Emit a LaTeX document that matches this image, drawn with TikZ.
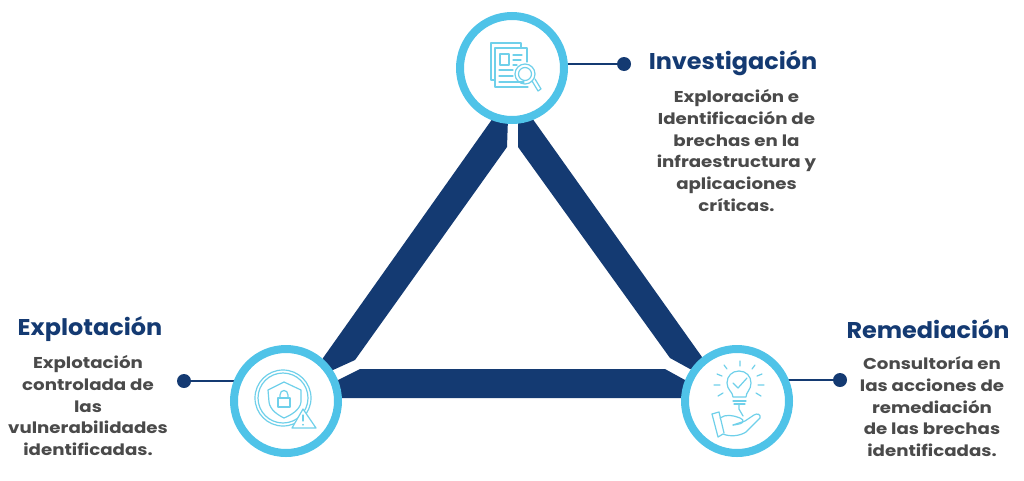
\documentclass[tikz,border=0pt]{standalone}
\usepackage{fontspec}
\setmainfont{Poppins}
\newfontfamily\titlefont{Poppins}[FakeStretch=1.05]
\newfontfamily\bodyfont{Poppins}[FakeStretch=1.16]
\definecolor{navy}{HTML}{143A72}
\definecolor{sky}{HTML}{4FC3E8}
\definecolor{icon}{HTML}{6FD0EA}
\definecolor{bodygray}{HTML}{4A4A4A}
\tikzset{
 ringnode/.style={circle,draw=sky,line width=8pt,fill=white,minimum size=104pt,inner sep=0pt},
 dotnode/.style={circle,fill=navy,minimum size=14pt,inner sep=0pt},
 link/.style={draw=navy,line width=1.6pt},
 bar/.style={fill=navy,draw=none},
 title/.style={text=navy,font=\titlefont\fontsize{22.8}{24}\selectfont\bfseries,inner sep=0pt},
 body/.style={text=bodygray,font=\bodyfont\fontsize{15.7}{21.7}\selectfont\bfseries,align=center,inner sep=0pt,anchor=north},
 ic/.style={draw=icon,line width=1.2pt,line cap=round,line join=round}
}
\begin{document}
\begin{tikzpicture}[x=1pt,y=-1pt]
\useasboundingbox (0,0) rectangle (1024,480);
% bars
\fill[bar] (493,118)--(508,118)--(507,147)--(355,360)--(333,370)--(320,372)--(323,358)--cycle;
\fill[bar] (518,118)--(532,118)--(702,357)--(705,372)--(690,369)--(670,358)--(518,147)--cycle;
\fill[bar] (330,384)--(338,380)--(360,369)--(665,369)--(685,380)--(695,384)--(695,398)--(330,398)--cycle;
% connectors
\node[dotnode] (dtop) at (624,64) {};
\node[dotnode] (dleft) at (184,381) {};
\node[dotnode] (dright) at (840,380) {};
\coordinate (ctop) at (512,64);
\coordinate (cleft) at (286,381);
\coordinate (cright) at (737,380);
\draw[link] (dtop) -- (ctop);
\draw[link] (dleft) -- (cleft);
\draw[link] (dright) -- (cright);
% rings
\node[ringnode] (top) at (512,68) {};
\node[ringnode] (left) at (286,401) {};
\node[ringnode] (right) at (737,401) {};
% icon: document + magnifier
\begin{scope}[ic]
\draw (495,80)--(491,80)--(491,43)--(521,43)--(521,48);
\draw (527,62)--(527,48)--(495,48)--(495,87)--(528,87);
\draw (500,54) rectangle (509,65);
\draw (513,55)--(522,55) (513,60)--(521,60) (513,65)--(517,65);
\draw (499,70)--(513,70) (499,76)--(513,76) (499,82)--(524,82);
\draw (525,74) circle (10);
\draw (525,74) circle (6.5);
\draw (532,81)--(538,91)--(541,89)--(535,79);
\end{scope}
% icon: shield
\begin{scope}[ic]
\draw (283,398) circle (28);
\draw (283,398) circle (25);
\draw (284,382)--(268,390)--(269,402) .. controls (270,410) and (278,415) .. (284,418) .. controls (291,415) and (300,410) .. (301,402)--(301,390)--cycle;
\draw (278,398) rectangle (290,407);
\draw (280,398)--(280,395) .. controls (280,389) and (288,389) .. (288,395)--(288,398);
\draw[fill=white] (292,428)--(303,409)--(316,428)--cycle;
\draw (303,415)--(303,421) (303,424.5)--(303,425);
\end{scope}
% icon: bulb and hand
\begin{scope}[ic]
\draw (733,397) .. controls (733,392) and (727,390) .. (727,383) .. controls (727,376) and (732,371) .. (739,371) .. controls (746,371) and (751,376) .. (751,383) .. controls (751,390) and (746,392) .. (746,397)--cycle;
\draw (733,401)--(746,401) (734,404)--(745,404);
\draw (739,405)--(739,409)--(743,416);
\draw (733,383)--(738,388)--(747,378);
\draw (740,366)--(740,361) (727,369)--(724,365) (752,369)--(755,365);
\draw (722,376)--(717,374) (757,376)--(762,374) (720,385)--(714,385) (758,385)--(764,385);
\draw (723,393)--(718,396) (756,393)--(761,396);
\draw (712,414)--(718,437)--(723,434) .. controls (730,437) and (740,436) .. (746,432)--(760,418) .. controls (761,414) and (757,413) .. (754,415)--(745,421)--(733,425);
\draw (720,418) .. controls (726,414) and (732,415) .. (740,418) .. controls (745,420) and (745,424) .. (733,425);
\draw (712,414)--(719,412)--(724,433);
\end{scope}
% text
\node[title,anchor=center] (t1) at (733,63.5) {Investigación};
\node[title,anchor=center] (t2) at (90,329.5) {Explotación};
\node[title,anchor=center] (t3) at (928,329.5) {Remediación};
\node[body] (b1) at (736.5,89.5) {Exploración e\\Identificación de\\brechas en la\\infraestructura y\\aplicaciones\\críticas.};
\node[body] (b2) at (88,355.5) {Explotación\\controlada de\\las\\vulnerabilidades\\identificadas.};
\node[body] (b3) at (932,356.5) {Consultoría en\\las acciones de\\remediación\\de las brechas\\identificadas.};
\end{tikzpicture}
\end{document}
